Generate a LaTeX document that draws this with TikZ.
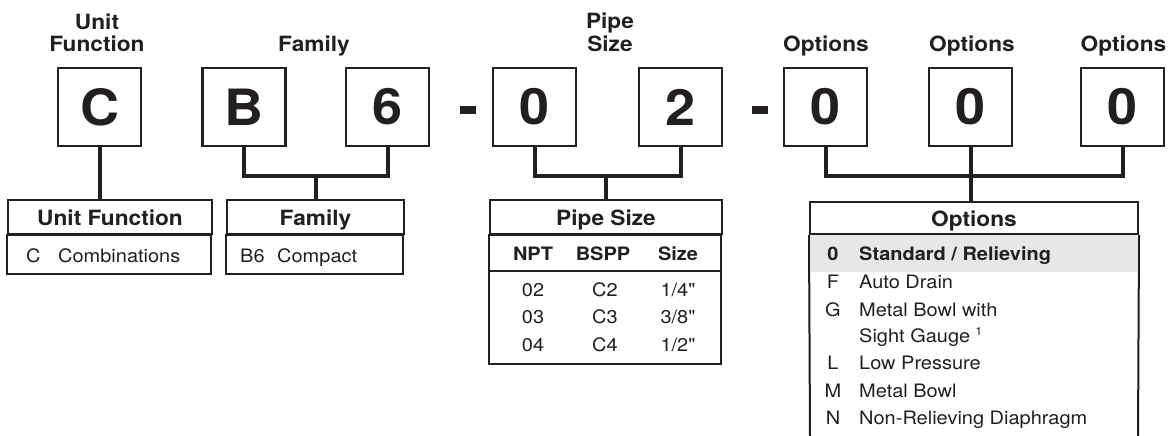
\documentclass[tikz,border=0pt]{standalone}
\usepackage{fontspec}
\setmainfont{TeX Gyre Heros}[FakeStretch=1.08, Ligatures=TeXOff]
\definecolor{ink}{HTML}{231F20}
\definecolor{rowgray}{HTML}{E6E7E8}
\begin{document}
\begin{tikzpicture}[x=1pt,y=-1pt,
  every node/.style={text=ink},
  codebox/.style={draw=ink, line width=2.2pt, minimum width=83pt, minimum height=78pt, inner sep=0pt,
    font=\fontsize{50}{50}\selectfont\bfseries},
  ttl/.style={anchor=base, inner sep=0pt, font=\fontsize{21}{23}\selectfont\bfseries},
  hdr/.style={draw=ink, line width=2pt, inner sep=0pt, text height=18pt, text depth=2pt,
    font=\fontsize{21}{23}\selectfont\bfseries},
  conn/.style={draw=ink, line width=4pt},
  tbl/.style={draw=ink, line width=2pt},
  colhdr/.style={anchor=base, inner sep=0pt, font=\fontsize{18.5}{22}\selectfont\bfseries},
  cell/.style={anchor=base, inner sep=0pt, font=\fontsize{18.5}{22}\selectfont},
  bodytxt/.style={anchor=base west, inner sep=0pt, font=\fontsize{18.5}{22}\selectfont},
  bodybold/.style={anchor=base west, inner sep=0pt, font=\fontsize{18.5}{22}\selectfont\bfseries},
  dashbar/.style={fill=ink, minimum width=16pt, minimum height=8pt, inner sep=0pt}
]
\useasboundingbox (0,0) rectangle (1172,436);

% ---- titles ----
\node[ttl] (t1a) at (97,29.5) {Unit};
\node[ttl] (t1b) at (97,52) {Function};
\node[ttl] (t2) at (314,51.5) {Family};
\node[ttl] (t3a) at (610,29) {Pipe};
\node[ttl] (t3b) at (610,52) {Size};
\node[ttl] (t4) at (826,52) {Options};
\node[ttl] (t5) at (972,52) {Options};
\node[ttl] (t6) at (1123.5,52) {Options};

% ---- code boxes ----
\node[codebox] (c)  at (99.5,107) {C};
\node[codebox] (b)  at (244,107) {B};
\node[codebox] (s6) at (387.5,107) {6};
\node[dashbar] (d1) at (468,110) {};
\node[codebox] (p0) at (534.5,107) {0};
\node[codebox] (p2) at (680.5,107) {2};
\node[dashbar] (d2) at (760,110) {};
\node[codebox] (o1) at (825.5,107) {0};
\node[codebox] (o2) at (970.5,107) {0};
\node[codebox] (o3) at (1122.5,107) {0};

% ---- Unit Function table ----
\node[hdr, minimum width=204pt, minimum height=34pt] (ufh) at (110,217) {Unit Function};
\draw[tbl] (ufh.south west) rectangle ++(204,39);
\node[bodytxt] (uf1a) at (26,262) {C};
\node[bodytxt] (uf1b) at (58,262) {Combinations};

% ---- Family table ----
\node[hdr, minimum width=177pt, minimum height=34pt] (fmh) at (315.5,217) {Family};
\draw[tbl] (fmh.south west) rectangle ++(177,39);
\node[bodytxt] (fm1a) at (240,262) {B6};
\node[bodytxt] (fm1b) at (277,262) {Compact};

% ---- Pipe Size table ----
\node[hdr, minimum width=232pt, minimum height=34pt] (pph) at (606,217) {Pipe Size};
\draw[tbl] (pph.south west) rectangle ++(232,129);
\draw[tbl] (490,271) -- (722,271);
\node[colhdr] (ch1) at (533,260.5) {NPT};
\node[colhdr] (ch2) at (603,260.5) {BSPP};
\node[colhdr] (ch3) at (678,260.5) {Size};
\node[cell] (r1a) at (533,296) {02};
\node[cell] (r1b) at (605,296) {C2};
\node[cell] (r1c) at (678,296) {1/4"};
\node[cell] (r2a) at (533,323.5) {03};
\node[cell] (r2b) at (605,323.5) {C3};
\node[cell] (r2c) at (678,323.5) {3/8"};
\node[cell] (r3a) at (533,351) {04};
\node[cell] (r3b) at (605,351) {C4};
\node[cell] (r3c) at (678,351) {1/2"};

% ---- Options table ----
\fill[rowgray] (811,235) rectangle (1137,272);
\node[hdr, minimum width=328pt, minimum height=32pt] (oph) at (974,218) {Options};
\draw[tbl] (oph.south west) -- (810,437);
\draw[tbl] (oph.south east) -- (1138,437);
\node[cell, font=\fontsize{18.5}{22}\selectfont\bfseries] (oa) at (833,260) {0};
\node[bodybold] (ob) at (859,260) {Standard / Relieving};
\node[cell] (fa) at (833,288) {F};
\node[bodytxt] (fb) at (859,288) {Auto Drain};
\node[cell] (ga) at (833,316) {G};
\node[bodytxt] (gb) at (859,316) {Metal Bowl with};
\node[bodytxt] (gc) at (859,342) {Sight Gauge\hspace{5pt}\raisebox{7pt}{\fontsize{11.5}{12}\selectfont 1}};
\node[cell] (la) at (833,369.5) {L};
\node[bodytxt] (lb) at (859,369.5) {Low Pressure};
\node[cell] (ma) at (833,397) {M};
\node[bodytxt] (mb) at (859,397) {Metal Bowl};
\node[cell] (na) at (833,424.5) {N};
\node[bodytxt] (nb) at (859,424.5) {Non-Relieving Diaphragm};

% ---- connectors ----
\draw[conn] (c.south) -- (c.south |- ufh.north);
\draw[conn] (b.south) -- ++(0,29) -| (s6.south);
\draw[conn] (fmh.north) -- ++(0,-25);
\draw[conn] (p0.south) -- ++(0,29) -| (p2.south);
\draw[conn] (pph.north) -- ++(0,-25);
\draw[conn] (o1.south) -- ++(0,29) -| (o3.south);
\draw[conn] (o2.south) -- (o2.south |- oph.north);
\end{tikzpicture}
\end{document}
